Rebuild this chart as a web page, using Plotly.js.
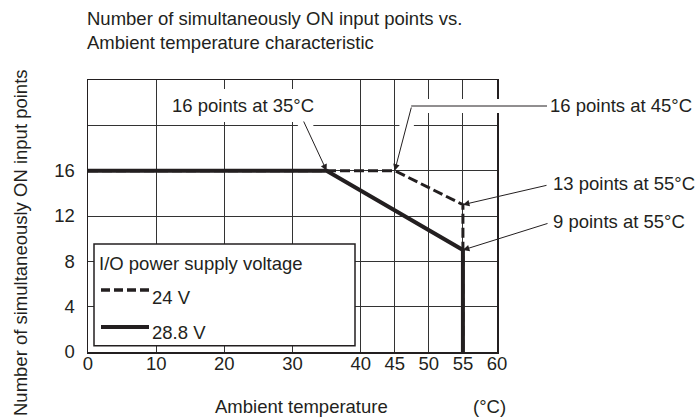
<!DOCTYPE html>
<html>
<head>
<meta charset="utf-8">
<script src="https://cdn.plot.ly/plotly-3.0.1.min.js"></script>
<style>html,body{margin:0;padding:0;background:#fff;}#chart{width:699px;height:417px;}</style>
</head>
<body>
<div id="chart"></div>
<script>
// ---- data ----
var temps24 = [0, 45, 55, 55];
var points24 = [16, 16, 13, 0];
var temps288 = [0, 35, 55, 55];
var points288 = [16, 16, 9, 0];
var xTickVals = [0, 10, 20, 30, 40, 45, 50, 55, 60];
var xTickText = ['0', '10', '20', '30', '40', '45', '50', '55', '60'];
var yTickVals = [0, 4, 8, 12, 16, 20];
var yTickText = ['0', '4', '8', '12', '16', ''];
var seriesNames = ['24 V', '28.8 V'];

// ---- layout helpers (pixel -> paper) ----
var W = 699, H = 417, ML = 88, MR = 202, MT = 80, MB = 65;
var PW = W - ML - MR, PH = H - MT - MB;
function px(x) { return (x - ML) / PW; }
function py(y) { return (H - MB - y) / PH; }

var INK = '#231f20';
var FONT = {family: 'Liberation Sans, Arial, sans-serif', size: 18.5, color: INK};

var traces = [
  {x: temps24, y: points24, type: 'scatter', mode: 'lines', name: seriesNames[0],
   line: {color: INK, width: 3, dash: '10px,4px'}, showlegend: false, hoverinfo: 'skip'},
  {x: temps288, y: points288, type: 'scatter', mode: 'lines', name: seriesNames[1],
   line: {color: INK, width: 4}, showlegend: false, hoverinfo: 'skip'}
];

function txt(t, x, y, xanchor, extra) {
  var a = {text: t, xref: 'paper', yref: 'paper', x: px(x), y: py(y), xanchor: xanchor || 'left',
           yanchor: 'middle', showarrow: false, font: FONT, borderpad: 0, borderwidth: 0};
  if (extra) for (var k in extra) a[k] = extra[k];
  return a;
}
function arrow(hx, hy, tx, ty) {
  // head at data point (hx,hy); tail at pixel (tx,ty)
  var hpx = ML + hx / 60 * PW, hpy = H - MB - hy / 24 * PH;
  return {text: '', xref: 'x', yref: 'y', x: hx, y: hy, ax: tx - hpx, ay: ty - hpy,
          showarrow: true, arrowhead: 2, arrowsize: 1.3, arrowwidth: 1, arrowcolor: INK, standoff: 0};
}
function seg(x0, y0, x1, y1, color, width, dash) {
  return {type: 'line', xref: 'paper', yref: 'paper', x0: px(x0), y0: py(y0), x1: px(x1), y1: py(y1),
          line: {color: color, width: width, dash: dash || 'solid'}, layer: 'above'};
}

var shapes = [
  // white halos around leader lines
  seg(304, 122, 316, 148, '#fff', 14),
  seg(411.7, 106, 405, 132, '#fff', 14),
  seg(411.7, 106, 505, 106, '#fff', 14),
  // leader horizontal part
  seg(411.2, 106, 547, 106, INK, 1),
  // legend box
  {type: 'rect', xref: 'paper', yref: 'paper', x0: px(94), y0: py(345.7), x1: px(355), y1: py(244),
   fillcolor: '#fff', line: {color: INK, width: 1.5}, layer: 'above'},
  seg(101, 290, 150, 290, INK, 3.5, '9px,4px'),
  seg(101, 327, 149, 327, INK, 4)
];

var annotations = [
  txt('Number of simultaneously ON input points vs.<br>Ambient temperature characteristic', 87, 31, 'left', {align: 'left'}),
  txt('16 points at 35°C', 242.5, 105, 'center', {bgcolor: '#fff', borderpad: 6}),
  txt('16 points at 45°C', 550, 105, 'left'),
  txt('13 points at 55°C', 553, 183, 'left'),
  txt('9 points at 55°C', 553, 222, 'left'),
  txt('Number of simultaneously ON input points', 20, 243, 'center', {textangle: -90}),
  txt('Ambient temperature', 301.5, 406, 'center'),
  txt('(°C)', 489, 406, 'center'),
  txt('I/O power supply voltage', 99, 263, 'left'),
  txt(seriesNames[0], 152, 297, 'left'),
  txt(seriesNames[1], 152, 332, 'left'),
  arrow(35, 16, 303, 120),
  arrow(45, 16, 411.7, 106),
  arrow(55, 13, 548, 185),
  arrow(55, 9, 549, 223)
];

var layout = {
  width: W, height: H,
  margin: {l: ML, r: MR, t: MT, b: MB, pad: 0},
  paper_bgcolor: '#fff', plot_bgcolor: '#fff',
  font: FONT,
  showlegend: false,
  xaxis: {range: [0, 60], tickvals: xTickVals, ticktext: xTickText, showgrid: true, gridcolor: '#333',
          gridwidth: 1, zeroline: false, showline: true, mirror: true, linecolor: INK, linewidth: 1.5,
          ticks: '', ticklabelstandoff: -6, tickfont: FONT, fixedrange: true},
  yaxis: {range: [0, 24], tickvals: yTickVals, ticktext: yTickText, showgrid: true, gridcolor: '#333',
          gridwidth: 1, zeroline: false, showline: true, mirror: true, linecolor: INK, linewidth: 1.5,
          ticks: '', ticklabelstandoff: 8, tickfont: FONT, fixedrange: true},
  shapes: shapes,
  annotations: annotations
};

Plotly.newPlot('chart', traces, layout, {displayModeBar: false, staticPlot: true});
</script>
</body>
</html>
